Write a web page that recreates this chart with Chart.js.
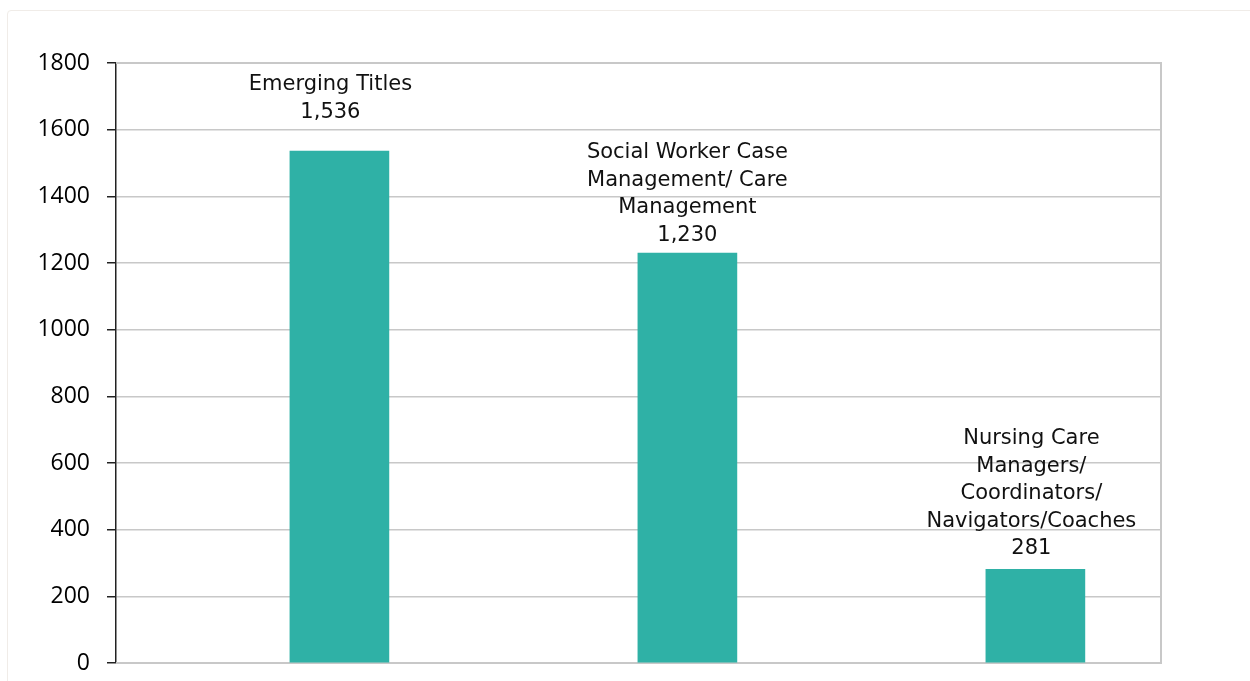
<!DOCTYPE html>
<html>
<head>
<meta charset="utf-8">
<script src="https://cdn.jsdelivr.net/npm/chart.js@4"></script>
<style>
  html, body { margin: 0; padding: 0; background: #fff; }
  #wrap { position: relative; width: 1250px; height: 681px; overflow: hidden; }
  #frame {
    position: absolute; left: 7px; top: 10px; width: 1400px; height: 800px;
    border: 1.5px solid #f0ece8; border-radius: 4px; box-sizing: border-box;
  }
  #chart { position: absolute; left: 0; top: 0; }
</style>
</head>
<body>
<div id="wrap">
  <div id="frame"></div>
  <canvas id="chart" width="1250" height="681"></canvas>
</div>
<script>
// Chart data
const categories = [
    ['Emerging Titles'],
    ['Social Worker Case', 'Management/ Care', 'Management'],
    ['Nursing Care', 'Managers/', 'Coordinators/', 'Navigators/Coaches']
];
const values = [1536, 1230, 281];
const yTicks = [0, 200, 400, 600, 800, 1000, 1200, 1400, 1600, 1800];

// Draws category name + value above every bar
const barLabels = {
    id: 'barLabels',
    afterDatasetsDraw(chart, args, opts) {
        const ctx = chart.ctx;
        const meta = chart.getDatasetMeta(0);
        ctx.save();
        ctx.font = opts.font;
        ctx.fillStyle = '#111';
        ctx.textAlign = 'center';
        ctx.textBaseline = 'alphabetic';
        meta.data.forEach((bar, i) => {
            let lines = categories[i].concat([values[i].toLocaleString('en-US')]);
            let y = bar.y - opts.gaps[i];
            let x = bar.x + opts.shifts[i];
            for (let k = lines.length - 1; k >= 0; k--) {
                ctx.fillText(lines[k], x, y);
                y -= opts.lineHeight;
            }
        });
        ctx.restore();
    }
};

// Gray frame on top, right and bottom of the plot area
const plotFrame = {
    id: 'plotFrame',
    beforeDatasetsDraw(chart) {
        const a = chart.chartArea;
        const ctx = chart.ctx;
        ctx.save();
        ctx.strokeStyle = '#c8c8c8';
        ctx.lineWidth = 2;
        ctx.beginPath();
        ctx.moveTo(a.left, a.top);
        ctx.lineTo(a.right, a.top);
        ctx.lineTo(a.right, a.bottom);
        ctx.lineTo(a.left, a.bottom);
        ctx.stroke();
        ctx.restore();
    }
};

new Chart(document.getElementById('chart'), {
    type: 'bar',
    data: {
        datasets: [{
            data: categories.map((c, i) => ({ x: i, y: values[i] })),
            backgroundColor: '#2fb1a6',
            barThickness: 99
        }]
    },
    plugins: [plotFrame, barLabels],
    options: {
        responsive: false,
        animation: false,
        layout: { padding: { top: 63, right: 89, left: 0, bottom: 18 } },
        plugins: {
            legend: { display: false },
            tooltip: { enabled: false },
            barLabels: {
                font: '21px "DejaVu Sans", sans-serif',
                lineHeight: 27.6,
                gaps: [33, 12, 15],
                shifts: [-9, 0, -4]
            }
        },
        scales: {
            x: {
                type: 'linear',
                display: false,
                offset: false,
                min: -0.642,
                max: 2.361
            },
            y: {
                min: 0,
                max: 1800,
                afterBuildTicks: s => { s.ticks = yTicks.map(v => ({ value: v })); },
                // fixed axis width, no extra label padding above/below the plot
                afterFit: s => { s.width = 116; s.paddingTop = 0; s.paddingBottom = 0; },
                ticks: {
                    color: '#000',
                    padding: 17,
                    font: { family: '"Open Sans", sans-serif', size: 23 },
                    callback: v => String(v)
                },
                grid: {
                    color: '#c8c8c8',
                    lineWidth: 1.5,
                    tickColor: '#222',
                    tickLength: 9
                },
                border: { color: '#222', width: 1.5 }
            }
        }
    }
});
</script>
</body>
</html>
